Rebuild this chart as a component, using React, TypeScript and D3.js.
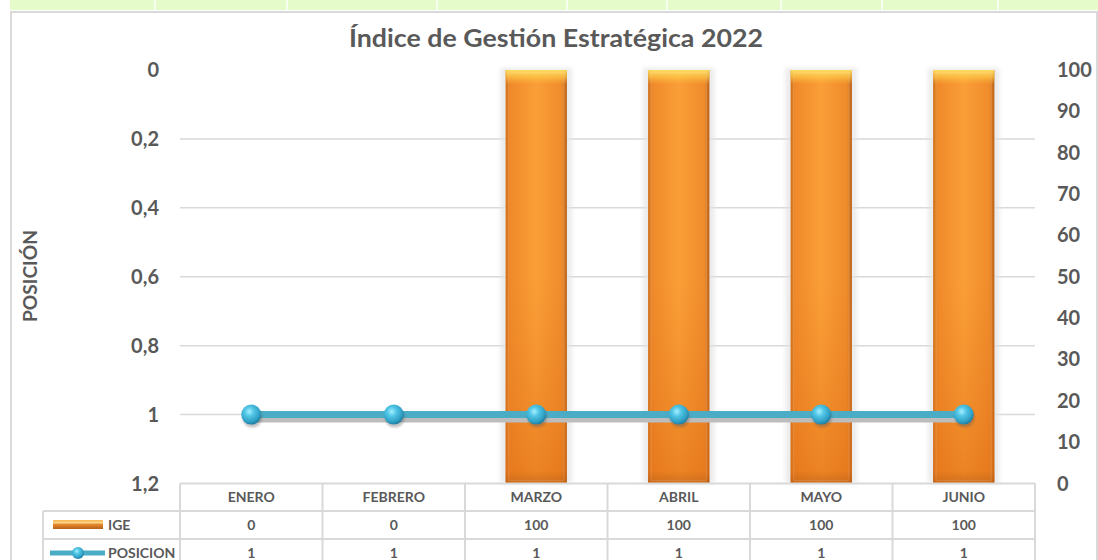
import React from "react";
import * as d3 from "d3";

const title = "Índice de Gestión Estratégica 2022";
const yAxisTitle = "POSICIÓN";
const categories = ["ENERO", "FEBRERO", "MARZO", "ABRIL", "MAYO", "JUNIO"];
const seriesNames = ["IGE", "POSICION"];
const igeValues = [0, 0, 100, 100, 100, 100];
const posicionValues = [1, 1, 1, 1, 1, 1];
const leftTicks = [0, 0.2, 0.4, 0.6, 0.8, 1, 1.2];
const leftTickLabels = ["0", "0,2", "0,4", "0,6", "0,8", "1", "1,2"];
const rightTicks = [0, 10, 20, 30, 40, 50, 60, 70, 80, 90, 100];
const sheetColumnEdges = [155, 287, 437, 567, 667, 781, 882, 998];

const W = 1098;
const H = 560;
const FONT = "Lato, 'Open Sans', sans-serif";
const TEXT = "#595959";
const GRID = "#d9d9d9";

export default function App() {
  const plotLeft = 180;
  const plotRight = 1035;
  const plotTop = 70;
  const plotBottom = 483.5;
  const x = d3.scaleBand<string>().domain(categories).range([plotLeft, plotRight]).padding(0);
  const step = x.bandwidth();
  const barW = step * 0.43;
  const yLeft = d3.scaleLinear().domain([0, 1.2]).range([plotTop, plotBottom]);
  const yRight = d3.scaleLinear().domain([0, 100]).range([plotBottom, plotTop]);
  const cx = (c: string) => (x(c) as number) + step / 2;

  const line = d3
    .line<number>()
    .x((_, i) => cx(categories[i]))
    .y((d) => yLeft(d));
  const linePath = line(posicionValues) || "";

  const row1 = 511;
  const row2 = 539;
  const legendLeft = 43;

  return (
    <svg
      width={W}
      height={H}
      style={{ position: "absolute", left: 0, top: 0, background: "#fff" }}
      fontFamily={FONT}
    >
      <defs>
        <linearGradient id="barH" x1="0" x2="1" y1="0" y2="0">
          <stop offset="0" stopColor="#d0701a" />
          <stop offset="0.08" stopColor="#f08a2a" />
          <stop offset="0.5" stopColor="#fa9f38" />
          <stop offset="0.92" stopColor="#ef8b2b" />
          <stop offset="1" stopColor="#b95f14" />
        </linearGradient>
        <linearGradient id="barV" x1="0" x2="0" y1="0" y2="1">
          <stop offset="0" stopColor="#ffe066" stopOpacity="0.95" />
          <stop offset="0.018" stopColor="#ffcf4a" stopOpacity="0.6" />
          <stop offset="0.035" stopColor="#ffb840" stopOpacity="0" />
          <stop offset="0.5" stopColor="#e87a1c" stopOpacity="0" />
          <stop offset="0.97" stopColor="#e06d14" stopOpacity="0.55" />
          <stop offset="1" stopColor="#b85a10" stopOpacity="0.7" />
        </linearGradient>
        <radialGradient id="marker" cx="0.4" cy="0.35" r="0.65">
          <stop offset="0" stopColor="#a6efff" />
          <stop offset="0.35" stopColor="#52c6e6" />
          <stop offset="0.8" stopColor="#2f9fc4" />
          <stop offset="1" stopColor="#1f7fa3" />
        </radialGradient>
        <linearGradient id="legendBar" x1="0" x2="0" y1="0" y2="1">
          <stop offset="0" stopColor="#f9c060" />
          <stop offset="0.3" stopColor="#f39a34" />
          <stop offset="1" stopColor="#b8601a" />
        </linearGradient>
        <filter id="blur2" x="-20%" y="-20%" width="140%" height="140%">
          <feGaussianBlur stdDeviation="2" />
        </filter>
        <filter id="blur1" x="-20%" y="-50%" width="140%" height="200%">
          <feGaussianBlur stdDeviation="1.2" />
        </filter>
      </defs>

      {/* spreadsheet band */}
      <rect x={10} y={0} width={W - 10} height={10} fill="#e5fbca" />
      {sheetColumnEdges.map((sx) => (
        <line key={sx} x1={sx} x2={sx} y1={0} y2={10} stroke="#f7fff0" strokeWidth={2} />
      ))}

      {/* chart frame */}
      <rect x={11} y={12} width={W - 12} height={H} fill="#fff" stroke={GRID} strokeWidth={2} />

      {/* title */}
      <text x={556} y={47} textAnchor="middle" fontSize={25} fontWeight={700} fill={TEXT} textLength={414} lengthAdjust="spacingAndGlyphs">
        {title}
      </text>

      {/* gridlines */}
      {leftTicks
        .filter((t) => t > 0 && t < 1.2)
        .map((t) => (
          <line key={t} x1={plotLeft} x2={plotRight} y1={yLeft(t)} y2={yLeft(t)} stroke={GRID} strokeWidth={1.5} />
        ))}

      {/* left axis labels */}
      {leftTicks.map((t, i) => (
        <text key={t} x={159} y={yLeft(t)} dy="0.35em" textAnchor="end" fontSize={20} fontWeight={700} fill={TEXT}>
          {leftTickLabels[i]}
        </text>
      ))}
      {/* right axis labels */}
      {rightTicks.map((t) => (
        <text key={t} x={1057} y={yRight(t)} dy="0.35em" textAnchor="start" fontSize={20} fontWeight={700} fill={TEXT}>
          {t}
        </text>
      ))}

      {/* y axis title */}
      <text
        transform={`translate(37,276) rotate(-90)`}
        textAnchor="middle"
        fontSize={19}
        fontWeight={700}
        fill={TEXT}
        textLength={92}
        lengthAdjust="spacingAndGlyphs"
      >
        {yAxisTitle}
      </text>

      {/* bars */}
      {categories.map((c, i) => {
        const v = igeValues[i];
        if (v <= 0) return null;
        const bx = cx(c) - barW / 2;
        const by = yRight(v);
        const bh = yRight(0) - by;
        return (
          <g key={c}>
            <rect x={bx - 5} y={by - 2} width={barW + 10} height={bh + 2} fill="#e3e3e3" opacity={0.7} filter="url(#blur2)" />
            <rect x={bx} y={by} width={barW} height={bh} fill="url(#barH)" />
            <rect x={bx} y={by} width={barW} height={bh} fill="url(#barV)" />
            <rect x={bx + 3} y={by + 3} width={barW - 6} height={bh - 6} fill="none" stroke="#ffffff" strokeOpacity={0.12} strokeWidth={1.5} />
          </g>
        );
      })}

      {/* line shadow */}
      <path d={linePath} transform="translate(0,9)" fill="none" stroke="#ededed" strokeWidth={6} filter="url(#blur1)" />
      <path d={linePath} transform="translate(0,5)" fill="none" stroke="#bdbdbd" strokeWidth={6} />
      {/* line */}
      <path d={linePath} fill="none" stroke="#4aacc5" strokeWidth={7} />
      {/* markers */}
      {posicionValues.map((v, i) => (
        <g key={i}>
          <circle cx={cx(categories[i]) + 1} cy={yLeft(v) + 3} r={10} fill="#555" opacity={0.35} filter="url(#blur1)" />
          <circle cx={cx(categories[i])} cy={yLeft(v)} r={10} fill="url(#marker)" />
        </g>
      ))}

      {/* data table */}
      <g stroke={GRID} strokeWidth={2}>
        <line x1={plotLeft} x2={plotRight} y1={plotBottom} y2={plotBottom} />
        <line x1={legendLeft} x2={plotRight} y1={row1} y2={row1} />
        <line x1={legendLeft} x2={plotRight} y1={row2} y2={row2} />
        <line x1={legendLeft} x2={legendLeft} y1={row1} y2={H} />
        {categories.map((c) => (
          <line key={c} x1={x(c)} x2={x(c)} y1={plotBottom} y2={H} />
        ))}
        <line x1={plotRight} x2={plotRight} y1={plotBottom} y2={H} />
      </g>
      {categories.map((c, i) => (
        <g key={c} fontSize={14} fontWeight={700} fill={TEXT} textAnchor="middle">
          <text x={cx(c)} y={(plotBottom + row1) / 2} dy="0.35em">{c}</text>
          <text x={cx(c)} y={(row1 + row2) / 2} dy="0.35em">{igeValues[i]}</text>
          <text x={cx(c)} y={(row2 + 567) / 2} dy="0.35em">{posicionValues[i]}</text>
        </g>
      ))}
      {/* legend keys */}
      <rect x={53} y={520} width={50} height={9} fill="url(#legendBar)" />
      <rect x={53} y={521.5} width={50} height={2} fill="#fde3a0" opacity={0.8} />
      <text x={108} y={(row1 + row2) / 2} dy="0.35em" fontSize={14} fontWeight={700} fill={TEXT}>{seriesNames[0]}</text>
      <line x1={50} x2={105} y1={553} y2={553} stroke="#4aacc5" strokeWidth={5} />
      <circle cx={78} cy={553} r={6} fill="url(#marker)" />
      <text x={108} y={(row2 + 567) / 2} dy="0.35em" fontSize={14} fontWeight={700} fill={TEXT}>{seriesNames[1]}</text>
    </svg>
  );
}
